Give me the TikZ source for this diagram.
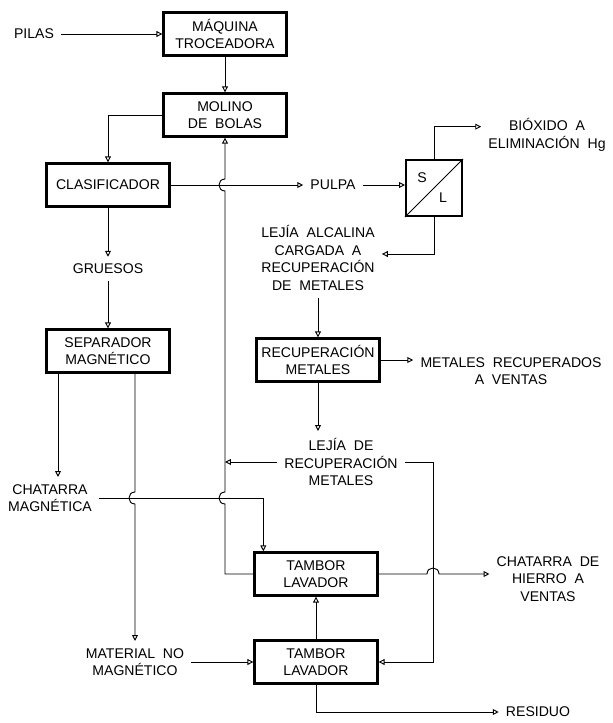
\documentclass[tikz,border=0pt]{standalone}
\usepackage{fontspec}
\setmainfont{Liberation Sans}[WordSpace=2]
\usetikzlibrary{arrows.meta}
\begin{document}
\begin{tikzpicture}[x=0.03cm,y=-0.03cm,
  every node/.style={font=\fontsize{12}{15}\selectfont},
  equipo/.style={draw,line width=2pt,minimum width=3.69cm,minimum height=1.29cm,align=center,inner sep=1pt},
  filtro/.style={draw,line width=2pt,minimum size=1.67cm,inner sep=0pt},
  etiqueta/.style={align=center,inner sep=6pt},
  flecha/.style={line width=0.8pt,-{Triangle[open,length=5pt,width=5pt]}},
  linea/.style={line width=0.8pt}]
\useasboundingbox (0,0) rectangle (613,723);
% equipos
\node[equipo] (maq) at (225,34) {MÁQUINA\\TROCEADORA};
\node[equipo] (molino) at (225,115) {MOLINO\\DE BOLAS};
\node[equipo] (clasif) at (108,185) {CLASIFICADOR};
\node[equipo] (sep) at (108,351) {SEPARADOR\\MAGNÉTICO};
\node[equipo] (recup) at (318,360) {RECUPERACIÓN\\METALES};
\node[equipo] (tambor1) at (316,574) {TAMBOR\\LAVADOR};
\node[equipo] (tambor2) at (316,662) {TAMBOR\\LAVADOR};
\node[filtro] (sl) at (434,188) {};
\draw[linea] (sl.south west) -- (sl.north east);
\node (s) at (422,178) {S};
\node (l) at (443,198) {L};
% corrientes
\node[etiqueta] (pilas) at (34,34) {PILAS};
\node[etiqueta] (pulpa) at (333,185) {PULPA};
\node[etiqueta] (biox) at (547,135) {BIÓXIDO A\\ELIMINACIÓN Hg};
\node[etiqueta] (lejia1) at (318,258) {LEJÍA ALCALINA\\CARGADA A\\RECUPERACIÓN\\DE METALES};
\node[etiqueta] (gruesos) at (108,269) {GRUESOS};
\node[etiqueta] (metv) at (511,371) {METALES RECUPERADOS\\A VENTAS};
\node[etiqueta] (lejia2) at (341,462) {LEJÍA DE\\RECUPERACIÓN\\METALES};
\node[etiqueta] (chat) at (50,498) {CHATARRA\\MAGNÉTICA};
\node[etiqueta] (material) at (135,662) {MATERIAL NO\\MAGNÉTICO};
\node[etiqueta] (hierro) at (548,579) {CHATARRA DE\\HIERRO A\\VENTAS};
\node[etiqueta] (residuo) at (538,712) {RESIDUO};
\coordinate (esq) at (433,662);
% flechas
\draw[flecha] (pilas.east) -- (maq.west);
\draw[flecha] (maq) -- (molino);
\draw[flecha] (molino.west) -| (clasif.north);
\draw[flecha] (clasif.east) -- (pulpa.west);
\draw[flecha] (pulpa.east) -- (pulpa.east -| sl.west);
\draw[flecha] (sl.north) |- ([yshift=0.25cm]biox.west);
\draw[flecha] (sl.south) |- ([yshift=0.12cm]lejia1.east);
\draw[flecha] (lejia1.south) -- (recup.north);
\draw[flecha] (recup.east) -- (recup.east -| metv.west);
\draw[flecha] (recup.south) -- (recup.south |- lejia2.north);
\draw[flecha] (lejia2.west) -- (lejia2.west -| molino.south);
\draw[flecha] (clasif.south) -- (gruesos.north);
\draw[flecha] (gruesos.south) -- (sep.north);
\draw[flecha] ([xshift=-1.5cm]sep.south) -- ([xshift=-1.5cm]sep.south |- chat.north);
\draw[flecha] (sep.south -| material.north) -- (135,492)
  .. controls (127,492) and (127,504) .. (135,504) -- (material.north);
\draw[flecha] (chat.east) -| ([xshift=0.3cm]tambor1.north west);
\draw[flecha] (tambor1.west) -| (225,504)
  .. controls (217,504) and (217,492) .. (225,492) -- (225,191)
  .. controls (217,191) and (217,179) .. (225,179) -- (molino.south);
\draw[flecha] (material.east) -- (tambor2.west);
\draw[flecha] (tambor2.north) -- (tambor1.south);
\draw[flecha] (tambor1.east) -- (427,574)
  .. controls (427,566) and (439,566) .. (439,574) -- (tambor1.east -| hierro.west);
\draw[flecha] (lejia2.east) -| (esq) -- (tambor2.east);
\draw[flecha] (tambor2.south) |- (residuo.west);
\end{tikzpicture}
\end{document}
